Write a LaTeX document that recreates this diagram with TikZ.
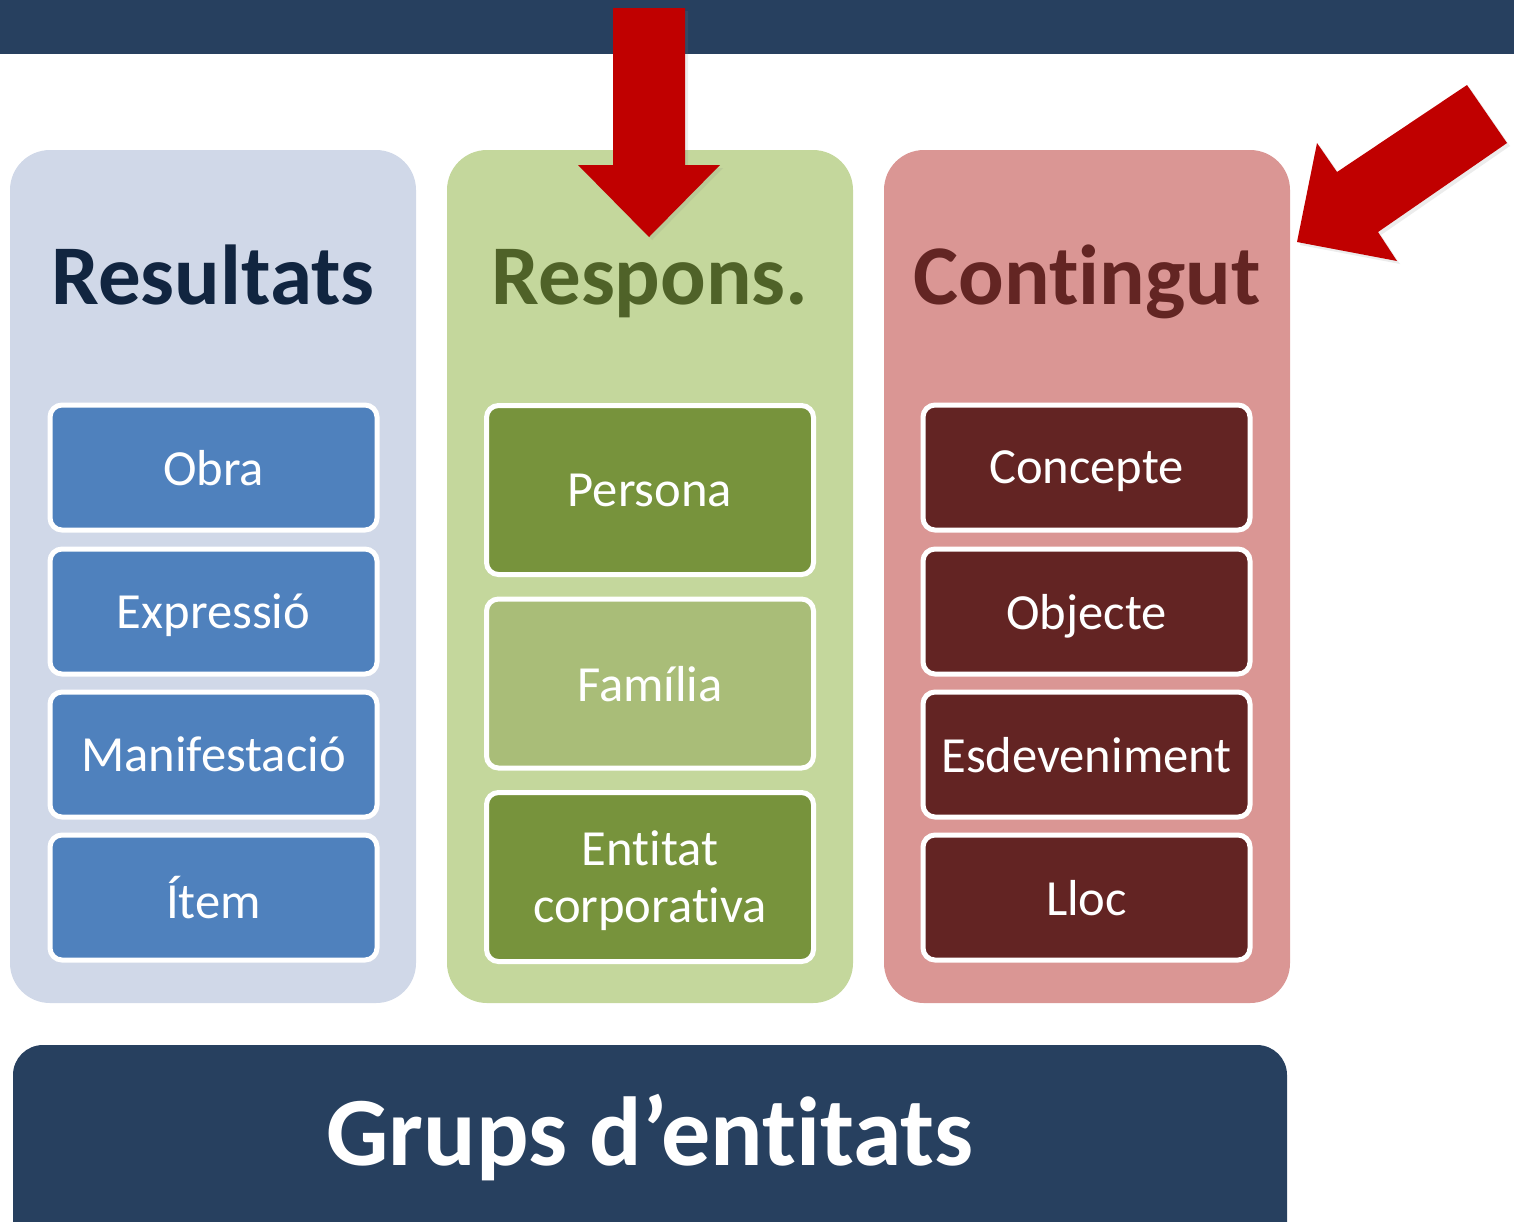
\documentclass[tikz,border=0pt]{standalone}
\usepackage{fontspec}
\setmainfont[Ligatures=NoCommon, RawFeature={-calt;-dlig}]{Carlito}
\usetikzlibrary{shadows}
\definecolor{navy}{RGB}{39,64,95}
\definecolor{redarrow}{RGB}{192,0,0}
\definecolor{colA}{RGB}{208,216,232}
\definecolor{colB}{RGB}{196,215,156}
\definecolor{colC}{RGB}{218,150,148}
\definecolor{titA}{RGB}{17,37,64}
\definecolor{titB}{RGB}{79,98,40}
\definecolor{titC}{RGB}{99,37,35}
\definecolor{boxA}{RGB}{79,129,189}
\definecolor{boxB}{RGB}{119,147,60}
\definecolor{boxBl}{RGB}{169,189,120}
\definecolor{boxC}{RGB}{99,36,35}
\tikzset{
  column/.style={rounded corners=40*0.5pt},
  coltitle/.style={font=\bfseries\fontsize{42.5}{42.5}\selectfont, anchor=base},
  entity/.style={draw=white, line width=5*0.5pt, rounded corners=12*0.5pt, text=white,
    font=\fontsize{25.3}{28.5}\selectfont, align=center, text depth=0pt},
  bigarrow/.style={fill=redarrow, draw=none, drop shadow={opacity=0.15, shadow xshift=1.5pt, shadow yshift=-1.5pt}},
}
\begin{document}
\begin{tikzpicture}[x=0.5pt,y=-0.5pt]
\useasboundingbox (0,0) rectangle (1514,1221);
\clip (0,0) rectangle (1514,1221);
% top bar
\fill[navy] (0,0) rectangle (1514,54);
% columns
\fill[colA, column] (10,150) rectangle (416,1003);
\fill[colB, column] (447,150) rectangle (853,1003);
\fill[colC, column] (884,150) rectangle (1290,1003);
% titles
\node[coltitle, text=titA] (tA) at (213,304) {Resultats};
\node[coltitle, text=titB] (tB) at (650,304) {Respons.};
\node[coltitle, text=titC] (tC) at (1087,304) {Contingut};
% entities col A
\node[entity, fill=boxA, minimum width=327*0.5pt, minimum height=125*0.5pt] (obra) at (213.5,467.5) {Obra};
\node[entity, fill=boxA, minimum width=327*0.5pt, minimum height=125*0.5pt] (expr) at (213.5,611.5) {Expressió};
\node[entity, fill=boxA, minimum width=327*0.5pt, minimum height=125*0.5pt] (mani) at (213.5,754.5) {Manifestació};
\node[entity, fill=boxA, minimum width=327*0.5pt, minimum height=125*0.5pt] (item) at (213.5,897.5) {Ítem};
% entities col B
\node[entity, fill=boxB, minimum width=327*0.5pt, minimum height=169*0.5pt] (pers) at (650,490) {Persona};
\node[entity, fill=boxBl, minimum width=327*0.5pt, minimum height=169*0.5pt] (fami) at (650,683.5) {Família};
\node[entity, fill=boxB, minimum width=327*0.5pt, minimum height=169*0.5pt] (ecorp) at (650,877) {Entitat\\corporativa};
% entities col C
\node[entity, fill=boxC, minimum width=327*0.5pt, minimum height=125*0.5pt] (conc) at (1086.5,467.5) {Concepte};
\node[entity, fill=boxC, minimum width=327*0.5pt, minimum height=125*0.5pt] (obj) at (1086.5,611.5) {Objecte};
\node[entity, fill=boxC, minimum width=327*0.5pt, minimum height=125*0.5pt] (esd) at (1086.5,754.5) {Esdeveniment};
\node[entity, fill=boxC, minimum width=327*0.5pt, minimum height=125*0.5pt] (lloc) at (1086.5,897.5) {Lloc};
% bottom bar
\fill[navy, rounded corners=30*0.5pt] (13,1045) rectangle (1287,1290);
\node[text=white, font=\bfseries\fontsize{49}{49}\selectfont, anchor=base] (grups) at (650,1165) {Grups d’entitats};
% arrows
\path[bigarrow] (613,8) -- (685,8) -- (685,165) -- (720,165) -- (649,237) -- (578,165) -- (613,165) -- cycle;
\path[bigarrow] (1467,85) -- (1507,143) -- (1378,232) -- (1397,261) -- (1297,242) -- (1317,143) -- (1337,172) -- cycle;
\end{tikzpicture}
\end{document}
